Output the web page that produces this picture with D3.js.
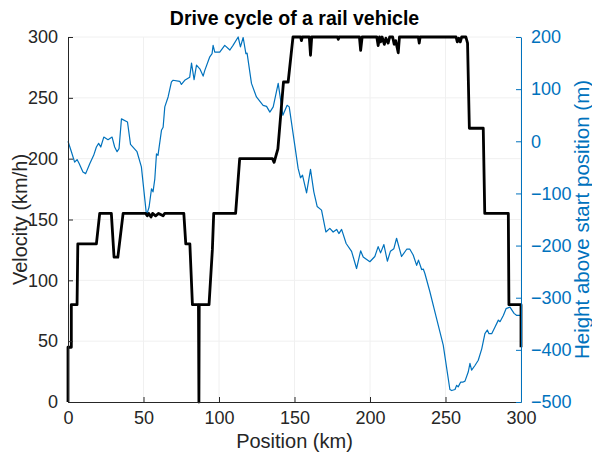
<!DOCTYPE html>
<html>
<head>
<meta charset="utf-8">
<script src="https://cdn.jsdelivr.net/npm/d3@7"></script>
<style>
  body { margin: 0; background: #fff; }
  text { font-family: "Liberation Sans", Arial, Helvetica, sans-serif; }
</style>
</head>
<body>
<div id="chart"></div>
<script>
// velocity profile [km, km/h]
let velocity = [
  [0, 0], [0, 45], [2.2, 45], [2.2, 80], [6, 80], [6.5, 130], [18.8, 130], [21, 155],
  [28.7, 155], [30.5, 119], [33, 119], [36.5, 155], [51.5, 155], [52.5, 153], [53.5, 155],
  [55, 152], [56, 155], [58, 153], [60, 155], [63, 153], [64, 155], [76.7, 155], [78, 130],
  [80.7, 130], [82.4, 80], [86.4, 80], [86.7, 0], [86.9, 80], [93.4, 80], [95.6, 125],
  [96.5, 155], [111, 155], [113.7, 200], [135.4, 200], [136.5, 197], [139, 208], [142.7, 263],
  [145.8, 263], [149, 300], [154, 300], [154.6, 297], [155.2, 300], [159.8, 300], [160.6, 285],
  [161.4, 300], [178.5, 300], [179, 298], [179.5, 300], [193, 300], [193.8, 289], [194.8, 300],
  [204.5, 300], [205.4, 293], [206.3, 300], [207, 296], [208, 300], [209.5, 294], [210.5, 299],
  [212, 295], [213, 300], [215, 300], [216, 294], [217, 297], [218.7, 287], [219.5, 300],
  [232, 300], [232.6, 295], [233.2, 300], [257, 300], [257.8, 296], [258.8, 299], [259.8, 296],
  [260.7, 300], [263.5, 300], [264.6, 295], [265.8, 225], [275, 225], [276, 155], [291.6, 155],
  [292, 80], [300, 80], [300, 45]
]

// height above start [km, m]
let height = [
  [0, 0], [2.25, -20], [4.4, -40], [6, -35], [7.3, -42], [9.9, -59], [11.7, -62], [14.4, -43],
  [17, -27], [18.8, -11], [20.3, -4], [21.7, -11], [23.7, 8], [26.5, 3], [29.2, 8], [30.9, -11],
  [32.5, -20], [33.8, -14], [35.4, 43], [39.4, 37], [41.4, -6], [45.7, -20], [48.6, -49],
  [52, -142], [53.7, -126], [55.3, -91], [56.3, -97], [57.5, -72], [58.6, -24], [59.6, -27],
  [61.9, 21], [63, 27], [64.1, 66], [66.3, 85], [68.5, 114], [69.6, 117], [74, 115], [75.1, 109],
  [77.3, 117], [80.6, 123], [81.8, 150], [83.5, 118], [85.1, 146], [87.3, 139], [89.5, 125],
  [90.6, 136], [93.9, 162], [95.4, 168], [96.1, 184], [97.2, 171], [100.5, 171], [103.8, 184],
  [107.2, 175], [109.3, 184], [112.7, 200], [114.2, 181], [116, 199], [117.8, 168], [118.6, 169],
  [121.5, 111], [124.8, 85], [129.2, 69], [131.5, 67], [133.7, 56], [135.9, 66], [139.2, 111],
  [142.3, 50], [145.1, 69], [146.5, 66], [150.2, -8], [152.4, -52], [154, -70], [155.3, -65],
  [158, -99], [160.6, -54], [162.8, -97], [165, -125], [167.9, -132], [170.8, -174], [173.4, -167],
  [175.6, -174], [177.9, -169], [179.4, -177], [181.2, -169], [184.2, -196], [187.8, -211],
  [191.1, -244], [193.8, -210], [195.5, -222], [199.9, -231], [203.2, -221], [205.4, -202],
  [207, -214], [209.2, -198], [211.5, -230], [213.5, -211], [215.8, -206], [217.6, -186],
  [220.9, -221], [224.3, -207], [226.4, -207], [228.6, -218], [230.9, -238], [232.1, -228],
  [234.2, -246], [235.3, -245], [236.4, -254], [239.7, -289], [244.1, -340], [248.5, -391],
  [252.9, -476], [254.1, -478], [256.3, -476], [257.4, -468], [258.4, -471], [260, -462],
  [261.4, -462], [262.9, -460], [265.1, -442], [266.2, -426], [267.3, -439], [269.5, -430],
  [271.7, -420], [274, -398], [276.1, -369], [277.7, -362], [278.8, -369], [280.6, -369],
  [282.8, -356], [285, -343], [286.1, -346], [288.3, -334], [290.1, -321], [292.7, -318],
  [295.4, -330], [297.2, -334], [300, -334]
]

let xTicks = [0, 50, 100, 150, 200, 250, 300]
let vTicks = [0, 50, 100, 150, 200, 250, 300]
let hTicks = [-500, -400, -300, -200, -100, 0, 100, 200]

let margin = { top: 37, left: 68, right: 71, bottom: 53 }
let width = 592 - margin.left - margin.right
let chartHeight = 455 - margin.top - margin.bottom

let blue = '#0072bd'
let axisColor = '#262626'

let svg = d3.select('#chart')
  .append('svg')
  .attr('width', 592)
  .attr('height', 455)

let g = svg.append('g')
  .attr('transform', 'translate(' + margin.left + ',' + margin.top + ')')

let x = d3.scaleLinear().domain([0, 300]).range([0, width])
let yV = d3.scaleLinear().domain([0, 300]).range([chartHeight, 0])
let yH = d3.scaleLinear().domain([-500, 200]).range([chartHeight, 0])

// grid
g.selectAll('.vgrid')
  .data(xTicks.slice(1))
  .enter()
  .append('line')
  .attr('x1', d => x(d))
  .attr('x2', d => x(d))
  .attr('y1', 0)
  .attr('y2', chartHeight)
  .attr('stroke', '#f0f0f0')

g.selectAll('.hgrid')
  .data(vTicks.slice(1))
  .enter()
  .append('line')
  .attr('x1', 0)
  .attr('x2', width)
  .attr('y1', d => yV(d))
  .attr('y2', d => yV(d))
  .attr('stroke', '#f0f0f0')

// height line (right axis)
let heightLine = d3.line()
  .x(d => x(d[0]))
  .y(d => yH(d[1]))

g.append('path')
  .datum(height)
  .attr('d', heightLine)
  .attr('fill', 'none')
  .attr('stroke', blue)
  .attr('stroke-width', 1.2)
  .attr('stroke-linejoin', 'round')

// velocity line (left axis)
let velLine = d3.line()
  .x(d => x(d[0]))
  .y(d => yV(d[1]))

g.append('path')
  .datum(velocity)
  .attr('d', velLine)
  .attr('fill', 'none')
  .attr('stroke', '#000')
  .attr('stroke-width', 2.8)
  .attr('stroke-linejoin', 'round')

// axes
let xAxis = g.append('g')
  .attr('transform', 'translate(0,' + chartHeight + ')')
  .call(d3.axisBottom(x).tickValues(xTicks).tickSizeInner(-5).tickSizeOuter(0).tickPadding(9))

let leftAxis = g.append('g')
  .call(d3.axisLeft(yV).tickValues(vTicks).tickSizeInner(-5).tickSizeOuter(0).tickPadding(10))

let rightAxis = g.append('g')
  .attr('transform', 'translate(' + width + ',0)')
  .call(d3.axisRight(yH).tickValues(hTicks).tickSizeInner(-5).tickSizeOuter(0).tickPadding(10))

;[xAxis, leftAxis].forEach(a => {
  a.select('.domain').attr('stroke', axisColor).attr('stroke-width', 1)
  a.selectAll('.tick line').attr('stroke', axisColor)
  a.selectAll('.tick text').attr('fill', axisColor).style('font-size', '18px')
})

rightAxis.select('.domain').attr('stroke', blue).attr('stroke-width', 1)
rightAxis.selectAll('.tick line').attr('stroke', blue)
rightAxis.selectAll('.tick text').attr('fill', blue).style('font-size', '18px')

// labels
svg.append('text')
  .attr('x', margin.left + width / 2)
  .attr('y', 25)
  .attr('text-anchor', 'middle')
  .style('font-size', '19.5px')
  .style('font-weight', 'bold')
  .attr('fill', '#000')
  .text('Drive cycle of a rail vehicle')

svg.append('text')
  .attr('x', margin.left + width / 2)
  .attr('y', 448)
  .attr('text-anchor', 'middle')
  .style('font-size', '20px')
  .attr('fill', axisColor)
  .text('Position (km)')

svg.append('text')
  .attr('transform', 'translate(27,' + (margin.top + chartHeight / 2) + ') rotate(-90)')
  .attr('text-anchor', 'middle')
  .style('font-size', '20px')
  .attr('fill', axisColor)
  .text('Velocity (km/h)')

svg.append('text')
  .attr('transform', 'translate(589,' + (margin.top + chartHeight / 2) + ') rotate(-90)')
  .attr('text-anchor', 'middle')
  .style('font-size', '20.5px')
  .attr('fill', blue)
  .text('Height above start position (m)')
</script>
</body>
</html>
